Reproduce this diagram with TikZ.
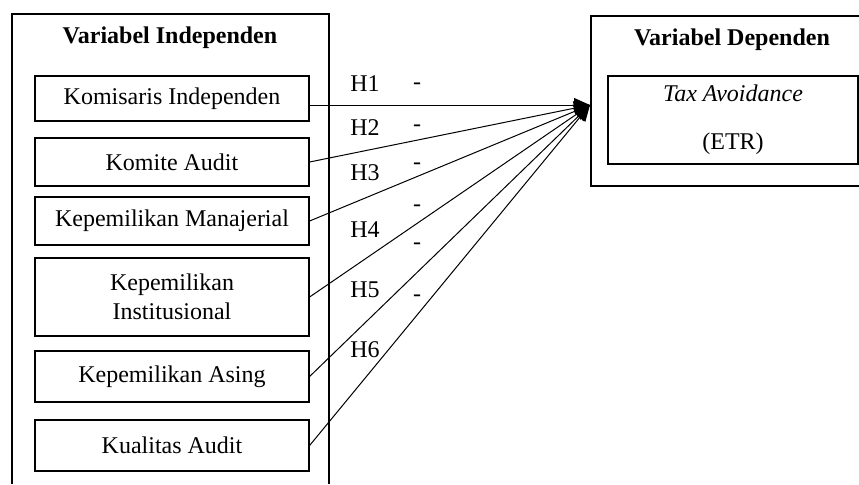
\documentclass[tikz,border=0pt]{standalone}
\usepackage{fontspec}
\setmainfont{Liberation Serif}
\usetikzlibrary{arrows.meta}

\tikzset{
  varbox/.style={draw, line width=0.6pt, minimum width=137pt, inner sep=0pt, align=center},
  frame/.style={line width=0.6pt},
  link/.style={line width=0.5pt, -{Triangle[length=8pt,width=7pt]}}
}

\begin{document}
\begin{tikzpicture}[x=0.5pt, y=-0.5pt, font=\fontsize{12}{14.5}\selectfont]
  \useasboundingbox (0,0) rectangle (859,484);

  % outer frames (both run off the page edge)
  \draw [frame] (12,484) -- (12,14) -- (329,14) -- (329,484);
  \draw [frame] (859,16) -- (591,16) -- (591,186) -- (859,186);

  % titles
  \node (indtitle) at (170,38) {\textbf{Variabel Independen}};
  \node (deptitle) at (732,40) {\textbf{Variabel Dependen}};

  % independent variables
  \node [varbox, minimum height=22.5pt] (k1) at (172,98.5) {Komisaris Independen};
  \node [varbox, minimum height=24pt]   (k2) at (172,162)  {Komite Audit};
  \node [varbox, minimum height=24pt]   (k3) at (172,221)  {Kepemilikan Manajerial};
  \node [varbox, minimum height=39pt]   (k4) at (172,297)  {Kepemilikan\\Institusional};
  \node [varbox, minimum height=25.5pt] (k5) at (172,376.5) {Kepemilikan Asing};
  \node [varbox, minimum height=25.5pt] (k6) at (172,445.5) {Kualitas Audit};

  % dependent variable
  \node [draw, line width=0.6pt, minimum width=125pt, minimum height=44pt, inner sep=0pt, align=center]
    (etr) at (733,120) {\textit{Tax Avoidance}\\[9.5pt](ETR)};

  % where all arrows meet
  \coordinate (tgt) at (590,105);

  % hypotheses
  \draw [link] (k1.east |- tgt) -- (tgt);
  \foreach \k in {2,...,6}
    \draw [link] (k\k.east) -- (tgt);

  % labels
  \foreach \h/\y in {1/84, 2/128, 3/173, 4/230, 5/290, 6/350}
    \node (h\h) at (365,\y) {H\h};
  \foreach \s/\y in {1/86, 2/128, 3/166, 4/208, 5/246, 6/298}
    \node [inner sep=1pt] (s\s) at (417,\y) {-};
\end{tikzpicture}
\end{document}
